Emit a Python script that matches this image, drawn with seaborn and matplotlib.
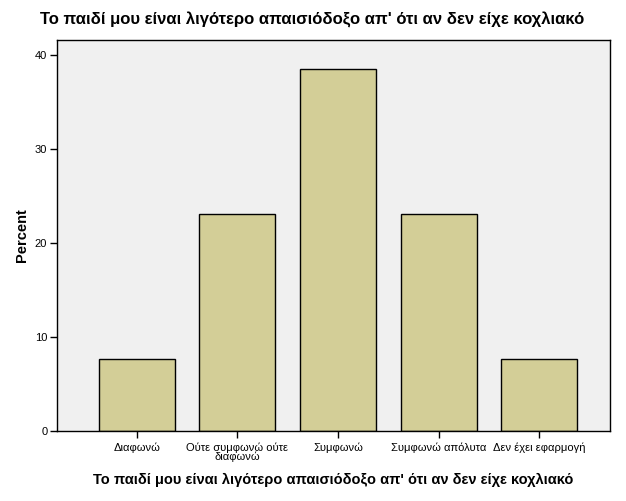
import matplotlib
matplotlib.use("Agg")
import matplotlib.pyplot as plt
import seaborn as sns
import pandas as pd

categories = ["Διαφωνώ", "Ούτε συμφωνώ ούτε\nδιαφωνώ", "Συμφωνώ", "Συμφωνώ απόλυτα", "Δεν έχει εφαρμογή"]
percent = [7.69, 23.08, 38.46, 23.08, 7.69]
yticks = [0, 10, 20, 30, 40]
title = "Το παιδί μου είναι λιγότερο απαισιόδοξο απ' ότι αν δεν είχε κοχλιακό"

sns.set_style("white")
plt.rcParams["font.family"] = ["Liberation Sans", "DejaVu Sans"]
plt.rcParams["text.color"] = "black"
plt.rcParams["axes.labelcolor"] = "black"
plt.rcParams["xtick.color"] = "black"
plt.rcParams["ytick.color"] = "black"

df = pd.DataFrame({"cat": categories, "pct": percent})

fig = plt.figure(figsize=(6.26, 5.01), dpi=100)
ax = fig.add_axes([0.0911, 0.1397, 0.8833, 0.7805])
ax.set_facecolor("#F0F0F0")
sns.barplot(data=df, x="cat", y="pct", ax=ax, color="#D3CE97", saturation=1,
            width=0.755, edgecolor="black", linewidth=1)
ax.set_xlim(-0.79, 4.70)
ax.set_ylim(0, 41.6)
ax.set_yticks(yticks)
ax.set_yticklabels([str(t) for t in yticks], fontsize=8)
ax.tick_params(axis="x", bottom=True, labelsize=8, length=5, width=1, color="black",
               labelcolor="black", direction="out", pad=3)
ax.tick_params(axis="y", left=True, length=5, width=1, color="black",
               labelcolor="black", direction="out", pad=2)
for s in ax.spines.values():
    s.set_color("black")
    s.set_linewidth(1)
ax.set_xlabel(title, fontsize=10.5, fontweight="bold", labelpad=8, color="black")
ax.set_ylabel("Percent", fontsize=10.5, fontweight="bold", labelpad=4, color="black")
fig.text(0.5 * (40 + 585) / 626, 1 - 20 / 501, title, fontsize=12, fontweight="bold",
         ha="center", va="center", color="black")
for lbl in ax.get_xticklabels():
    lbl.set_linespacing(0.85)
fig.patch.set_facecolor("white")
fig.savefig("out.png", dpi=100)
